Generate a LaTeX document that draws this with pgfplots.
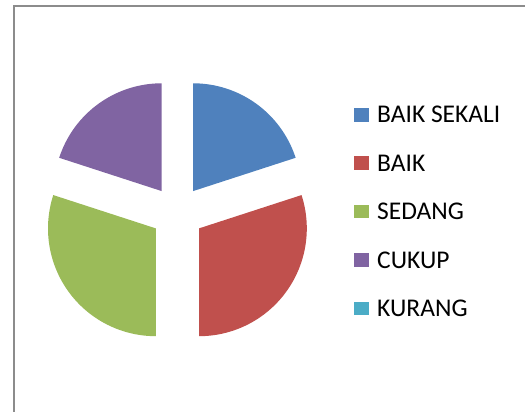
\documentclass[border=0pt]{standalone}
\usepackage{pgfplots}
\usepackage{pgfplotstable}
\pgfplotsset{compat=1.18}
\usepackage{fontspec}
\setmainfont{Carlito}

\definecolor{sBaikSekali}{HTML}{4F81BD}
\definecolor{sBaik}{HTML}{C0504D}
\definecolor{sSedang}{HTML}{9BBB59}
\definecolor{sCukup}{HTML}{8064A2}
\definecolor{sKurang}{HTML}{4BACC6}
\definecolor{frame}{HTML}{8C8C8C}

% share of each answer, in percent
\pgfplotstableread{
category value
BAIKSEKALI 20
BAIK 30
SEDANG 30
CUKUP 20
KURANG 0
}\piedata

% pie geometry, in pixel units of the 525x412 frame
\def\cx{177.4}
\def\cy{199.3}
\def\rad{107.8}
\def\off{26.7}

% one exploded slice: #1 sum before it, #2 its value, #3 colour
\newcommand\pieslice[3]{%
  \pgfmathsetmacro\sa{90-3.6*#1}%
  \pgfmathsetmacro\se{90-3.6*(#1+#2)}%
  \pgfmathsetmacro\sm{(\sa+\se)/2}%
  \pgfmathsetmacro\ox{\cx+\off*cos(\sm)}%
  \pgfmathsetmacro\oy{\cy+\off*sin(\sm)}%
  \edef\tmp{\noexpand\addplot[fill=#3, draw=none, domain=\se:\sa, samples=120]
    ({\ox+\rad*cos(x)}, {\oy+\rad*sin(x)}) -- (axis cs:\ox,\oy) -- cycle;}%
  \tmp
}

\begin{document}
\begin{tikzpicture}
\pgfplotstablegetelem{0}{value}\of\piedata \let\vA\pgfplotsretval
\pgfplotstablegetelem{1}{value}\of\piedata \let\vB\pgfplotsretval
\pgfplotstablegetelem{2}{value}\of\piedata \let\vC\pgfplotsretval
\pgfplotstablegetelem{3}{value}\of\piedata \let\vD\pgfplotsretval
\pgfmathsetmacro\cB{\vA}
\pgfmathsetmacro\cC{\vA+\vB}
\pgfmathsetmacro\cD{\vA+\vB+\vC}
\begin{axis}[
    scale only axis,
    width=525pt, height=412pt,
    xmin=0, xmax=525, ymin=0, ymax=412,
    hide axis,
    legend image code/.code={\fill[#1] (0pt,-6.5pt) rectangle (15pt,7pt);},
    legend style={
        draw=none, fill=none,
        at={(axis cs:354,305)}, anchor=north west,
        font=\fontsize{25.5}{30}\selectfont,
        inner sep=0pt,
        row sep=32.6pt,
        nodes={inner sep=0pt, text height=15.8pt, text depth=0pt},
        /tikz/every even column/.append style={column sep=0pt},
        /tikz/every odd column/.append style={column sep=8pt},
    },
    legend cell align=left,
]
\path[draw=none] (axis cs:0,0) rectangle (axis cs:525,412);
\draw[frame, line width=2pt] (axis cs:14,0) -- (axis cs:14,406) -- (axis cs:526,406);

\pieslice{0}{\vA}{sBaikSekali}
\addlegendentry{BAIK SEKALI}
\pieslice{\cB}{\vB}{sBaik}
\addlegendentry{BAIK}
\pieslice{\cC}{\vC}{sSedang}
\addlegendentry{SEDANG}
\pieslice{\cD}{\vD}{sCukup}
\addlegendentry{CUKUP}
\addlegendimage{fill=sKurang, draw=none}
\addlegendentry{KURANG}
\end{axis}
\end{tikzpicture}
\end{document}
